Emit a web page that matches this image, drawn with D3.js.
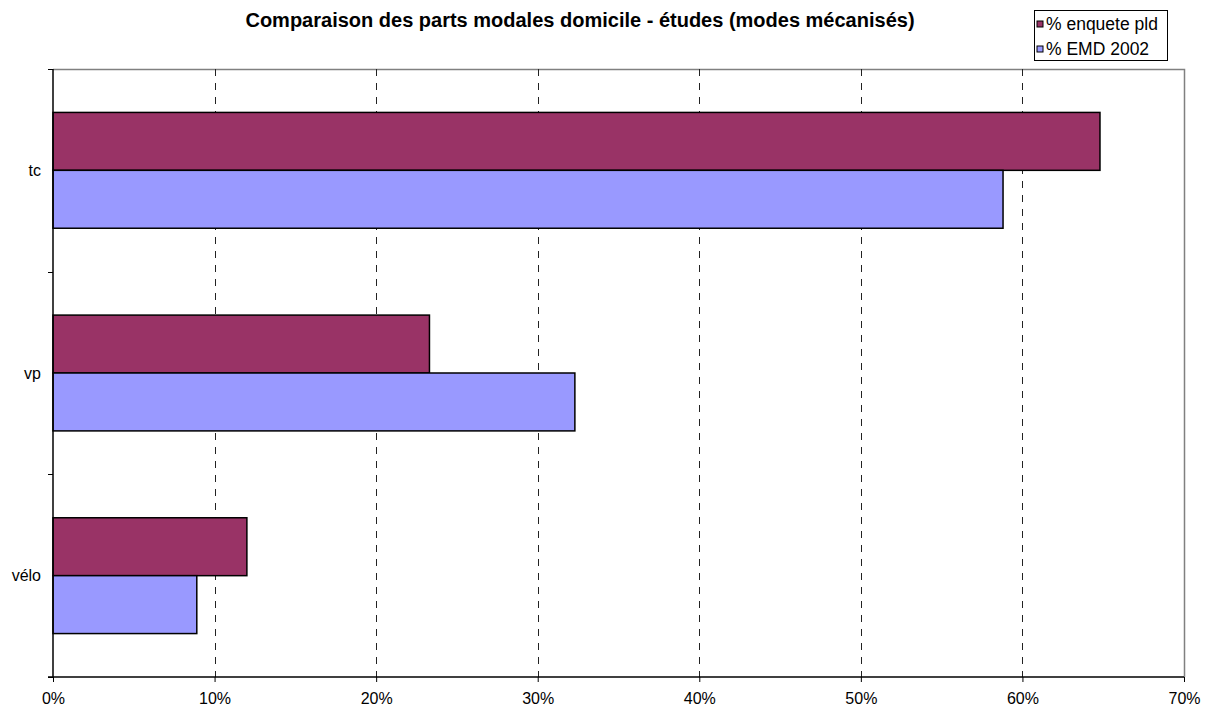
<!DOCTYPE html>
<html>
<head>
<meta charset="utf-8">
<script src="https://cdn.jsdelivr.net/npm/d3@7"></script>
<style>
  html, body { margin: 0; padding: 0; background: #fff; }
  svg { display: block; font-family: Arial, "Liberation Sans", sans-serif; }
</style>
</head>
<body>
<svg id="chart" width="1208" height="708"></svg>
<script>
// Travel modes (home - school trips)
const categories = ["tc", "vp", "vélo"];
const seriesNames = ["% enquete pld", "% EMD 2002"];
const enquetePld = [0.648, 0.233, 0.120];
const emd2002 = [0.588, 0.323, 0.089];
const xTicks = [0, 0.1, 0.2, 0.3, 0.4, 0.5, 0.6, 0.7];
const seriesColors = ["#993366", "#9999FF"];

const titleText = "Comparaison des parts modales domicile - études (modes mécanisés)";

const svg = d3.select("#chart");
const plot = { left: 53, right: 1184, top: 69, bottom: 677 };

const x = d3.scaleLinear().domain([0, 0.7]).range([plot.left, plot.right]);
const y = d3.scaleBand().domain(categories).range([plot.top, plot.bottom])
  .paddingInner(1.5 / 3.5).paddingOuter(0.75 / 3.5);
const ySub = d3.scaleBand().domain(seriesNames).range([0, y.bandwidth()]).padding(0);

const rows = categories.map((c, i) => ({ cat: c, values: [enquetePld[i], emd2002[i]] }));

// plot frame (top and right edges)
svg.append("path")
  .attr("d", `M${plot.left},${plot.top + 0.5}H${plot.right + 0.5}V${plot.bottom}`)
  .attr("fill", "none").attr("stroke", "#808080").attr("stroke-width", 1.5);

// dashed vertical gridlines
svg.append("g").selectAll("line")
  .data(xTicks.filter(t => t > 0 && t < 0.7))
  .join("line")
  .attr("x1", d => Math.round(x(d)) + 0.5).attr("x2", d => Math.round(x(d)) + 0.5)
  .attr("y1", plot.top).attr("y2", plot.bottom)
  .attr("stroke", "#222").attr("stroke-width", 1)
  .attr("stroke-dasharray", "7,7");

// bars
const groups = svg.append("g").selectAll("g")
  .data(rows).join("g")
  .attr("transform", d => `translate(0,${y(d.cat)})`);
groups.selectAll("rect")
  .data(d => d.values.map((v, j) => ({ v, s: seriesNames[j], j })))
  .join("rect")
  .attr("x", x(0))
  .attr("y", d => ySub(d.s))
  .attr("width", d => x(d.v) - x(0))
  .attr("height", ySub.bandwidth())
  .attr("fill", d => seriesColors[d.j])
  .attr("stroke", "#000").attr("stroke-width", 1.5);

// x axis
const xAxis = d3.axisBottom(x).tickValues(xTicks).tickFormat(d3.format(".0%"))
  .tickSize(5).tickPadding(11);
const gx = svg.append("g").attr("transform", `translate(0,${plot.bottom})`).call(xAxis);
gx.select(".domain").attr("stroke", "#000").attr("stroke-width", 1.5)
  .attr("d", `M${plot.left - 5},0H${plot.right}`);
gx.selectAll(".tick line").attr("stroke", "#000");
gx.selectAll(".tick text").attr("font-size", 16).attr("fill", "#000")
  .attr("font-family", "Arial, 'Liberation Sans', sans-serif");

// y axis: category labels centered in bands, ticks at band boundaries
const gy = svg.append("g");
gy.append("line")
  .attr("x1", plot.left).attr("x2", plot.left)
  .attr("y1", plot.top).attr("y2", plot.bottom)
  .attr("stroke", "#000").attr("stroke-width", 1.5);
const step = y.step();
const boundaries = d3.range(categories.length + 1).map(i => plot.top + i * step);
gy.selectAll("line.tk").data(boundaries).join("line").attr("class", "tk")
  .attr("x1", plot.left - 5).attr("x2", plot.left)
  .attr("y1", d => Math.round(d) + 0.5).attr("y2", d => Math.round(d) + 0.5)
  .attr("stroke", "#000").attr("stroke-width", 1);
gy.selectAll("text").data(categories).join("text")
  .attr("x", plot.left - 12)
  .attr("y", d => y(d) + y.bandwidth() / 2)
  .attr("dy", "0.35em")
  .attr("text-anchor", "end")
  .attr("font-size", 16)
  .text(d => d);

// title
svg.append("text")
  .attr("x", 580).attr("y", 27)
  .attr("text-anchor", "middle")
  .attr("font-size", 20).attr("font-weight", "bold")
  .text(titleText);

// legend
const legend = svg.append("g").attr("transform", "translate(1034,10)");
legend.append("rect").attr("x", 0.5).attr("y", 0.5).attr("width", 133).attr("height", 50)
  .attr("fill", "#fff").attr("stroke", "#000").attr("stroke-width", 1);
const items = legend.selectAll("g.item").data(seriesNames).join("g").attr("class", "item")
  .attr("transform", (d, i) => `translate(3,${14 + i * 25})`);
items.append("rect").attr("x", 0).attr("y", -3).attr("width", 6).attr("height", 6)
  .attr("fill", (d, i) => seriesColors[i]).attr("stroke", "#000").attr("stroke-width", 1);
items.append("text").attr("x", 9).attr("y", 0).attr("dy", "0.35em")
  .attr("font-size", 17.5).text(d => d);
</script>
</body>
</html>
